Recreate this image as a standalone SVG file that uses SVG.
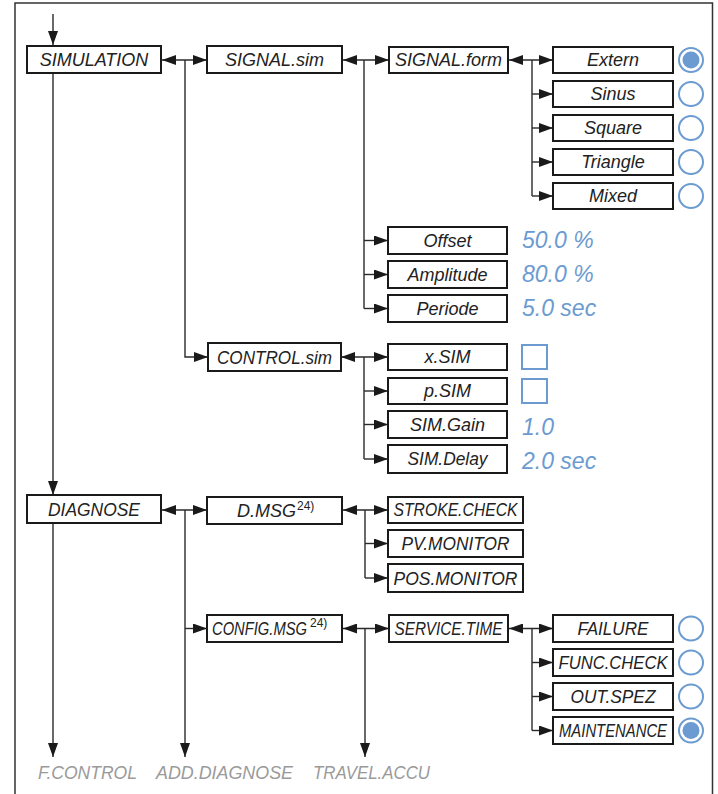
<svg xmlns="http://www.w3.org/2000/svg" width="718" height="794" viewBox="0 0 718 794">
<style>
.b rect{fill:#fff;stroke:#1a1a1a;stroke-width:2}
.b text{font-family:"Liberation Sans",Arial,sans-serif;font-style:italic;font-size:18px;fill:#222;text-anchor:middle}
.b text.s{text-anchor:start}
.b text.sup{text-anchor:start;font-size:12px;font-style:normal}
.c line,.c path{fill:none;stroke:#2a2a2a;stroke-width:1.4}
.ar{marker-end:url(#a)}
.ar2{marker-start:url(#a);marker-end:url(#a)}
.v{font-family:"Liberation Sans",Arial,sans-serif;font-style:italic;font-size:23px;fill:#6b9bd1}
.g{font-family:"Liberation Sans",Arial,sans-serif;font-style:italic;font-size:19px;fill:#9a9a9a}
.r{fill:#fff;stroke:#6b9bd1;stroke-width:2}
.rf{fill:#6b9bd1}
</style>
<defs>
<marker id="a" viewBox="0 0 14 10" refX="14" refY="5" markerWidth="14" markerHeight="10" markerUnits="userSpaceOnUse" orient="auto-start-reverse"><path d="M0,0L14,5L0,10z" fill="#1a1a1a"/></marker>
</defs>
<path d="M15,794V3H712.5V794" fill="none" stroke="#333" stroke-width="1.5"/>
<g class="c" id="connectors">
<line class="ar" x1="53" y1="14" x2="53" y2="45"/>
<line class="ar" x1="53" y1="73" x2="53" y2="495"/>
<line class="ar" x1="53" y1="523" x2="53" y2="757"/>
<line class="ar2" x1="162" y1="60" x2="207" y2="60"/>
<path class="ar" d="M185,60V357H208"/>
<line class="ar2" x1="343" y1="60" x2="389" y2="60"/>
<line x1="364" y1="60" x2="364" y2="308.5"/>
<line class="ar" x1="364" y1="240.5" x2="388" y2="240.5"/>
<line class="ar" x1="364" y1="274.5" x2="388" y2="274.5"/>
<line class="ar" x1="364" y1="308.5" x2="388" y2="308.5"/>
<line class="ar2" x1="509" y1="60" x2="553" y2="60"/>
<line x1="532" y1="60" x2="532" y2="196"/>
<line class="ar" x1="532" y1="94" x2="553" y2="94"/>
<line class="ar" x1="532" y1="128" x2="553" y2="128"/>
<line class="ar" x1="532" y1="162" x2="553" y2="162"/>
<line class="ar" x1="532" y1="196" x2="553" y2="196"/>
<line class="ar2" x1="341" y1="357" x2="388" y2="357"/>
<line x1="364" y1="357" x2="364" y2="459"/>
<line class="ar" x1="364" y1="391" x2="388" y2="391"/>
<line class="ar" x1="364" y1="424.5" x2="388" y2="424.5"/>
<line class="ar" x1="364" y1="459" x2="388" y2="459"/>
<line class="ar2" x1="162" y1="510" x2="207" y2="510"/>
<line class="ar" x1="185" y1="510" x2="185" y2="757"/>
<line class="ar" x1="185" y1="628.5" x2="207" y2="628.5"/>
<line class="ar2" x1="343" y1="510" x2="388" y2="510"/>
<line x1="365" y1="510" x2="365" y2="578"/>
<line class="ar" x1="365" y1="543.5" x2="388" y2="543.5"/>
<line class="ar" x1="365" y1="578" x2="388" y2="578"/>
<line class="ar2" x1="343" y1="628.5" x2="389" y2="628.5"/>
<line class="ar" x1="365" y1="628.5" x2="365" y2="757"/>
<line class="ar2" x1="509" y1="628.5" x2="553" y2="628.5"/>
<line x1="532" y1="628.5" x2="532" y2="730.5"/>
<line class="ar" x1="532" y1="662.5" x2="553" y2="662.5"/>
<line class="ar" x1="532" y1="696.5" x2="553" y2="696.5"/>
<line class="ar" x1="532" y1="730.5" x2="553" y2="730.5"/>
</g>
<g class="b">
<g id="simulation"><rect x="27" y="46" width="134" height="27"/><text x="94" y="66">SIMULATION</text></g>
<g id="signal_sim"><rect x="207" y="46" width="135" height="27"/><text x="274.5" y="66">SIGNAL.sim</text></g>
<g id="signal_form"><rect x="389" y="47" width="119" height="26"/><text x="448.5" y="66">SIGNAL.form</text></g>
<g id="extern"><rect x="553" y="47" width="120" height="26"/><text x="613" y="66">Extern</text></g>
<g id="sinus"><rect x="553" y="81" width="120" height="26"/><text x="613" y="100">Sinus</text></g>
<g id="square"><rect x="553" y="115" width="120" height="26"/><text x="613" y="134">Square</text></g>
<g id="triangle"><rect x="553" y="149" width="120" height="26"/><text x="613" y="168">Triangle</text></g>
<g id="mixed"><rect x="553" y="183" width="120" height="26"/><text x="613" y="202">Mixed</text></g>
<g id="offset"><rect x="388" y="227" width="119" height="27"/><text x="447.5" y="247">Offset</text></g>
<g id="amplitude"><rect x="388" y="261" width="119" height="27"/><text x="447.5" y="281">Amplitude</text></g>
<g id="periode"><rect x="388" y="295" width="119" height="27"/><text x="447.5" y="315">Periode</text></g>
<g id="control_sim"><rect x="208" y="343" width="133" height="28"/><text x="274.5" y="364" textLength="115" lengthAdjust="spacingAndGlyphs">CONTROL.sim</text></g>
<g id="x_sim"><rect x="388" y="344" width="119" height="26"/><text x="447.5" y="363">x.SIM</text></g>
<g id="p_sim"><rect x="388" y="378" width="119" height="26"/><text x="447.5" y="397">p.SIM</text></g>
<g id="sim_gain"><rect x="388" y="411" width="119" height="27"/><text x="447.5" y="431">SIM.Gain</text></g>
<g id="sim_delay"><rect x="388" y="445" width="119" height="28"/><text x="447.5" y="465" textLength="80" lengthAdjust="spacingAndGlyphs">SIM.Delay</text></g>
<g id="diagnose"><rect x="27" y="495" width="134" height="28"/><text x="94" y="516" textLength="92" lengthAdjust="spacingAndGlyphs">DIAGNOSE</text></g>
<g id="d_msg"><rect x="207" y="497" width="135" height="27"/><text class="s" x="237" y="517">D.MSG</text><text class="sup" x="297" y="510">24)</text></g>
<g id="stroke_check"><rect x="388" y="497" width="135" height="26"/><text x="455.5" y="516" textLength="124" lengthAdjust="spacingAndGlyphs">STROKE.CHECK</text></g>
<g id="pv_monitor"><rect x="388" y="530" width="135" height="27"/><text x="455.5" y="550" textLength="108" lengthAdjust="spacingAndGlyphs">PV.MONITOR</text></g>
<g id="pos_monitor"><rect x="388" y="564" width="135" height="28"/><text x="455.5" y="585" textLength="124" lengthAdjust="spacingAndGlyphs">POS.MONITOR</text></g>
<g id="config_msg"><rect x="207" y="615" width="135" height="27"/><text class="s" transform="translate(212,635) scale(0.82,1)" x="0" y="0">CONFIG.MSG</text><text class="sup" x="310" y="627">24)</text></g>
<g id="service_time"><rect x="389" y="615" width="119" height="27"/><text x="448.5" y="635" textLength="108" lengthAdjust="spacingAndGlyphs">SERVICE.TIME</text></g>
<g id="failure"><rect x="553" y="615" width="120" height="27"/><text x="613" y="635" textLength="71" lengthAdjust="spacingAndGlyphs">FAILURE</text></g>
<g id="func_check"><rect x="553" y="649" width="120" height="27"/><text x="613" y="669" textLength="109" lengthAdjust="spacingAndGlyphs">FUNC.CHECK</text></g>
<g id="out_spez"><rect x="553" y="683" width="120" height="27"/><text x="613" y="703" textLength="85" lengthAdjust="spacingAndGlyphs">OUT.SPEZ</text></g>
<g id="maintenance"><rect x="553" y="717" width="120" height="27"/><text x="613" y="737" textLength="108" lengthAdjust="spacingAndGlyphs">MAINTENANCE</text></g>
</g>
<g id="values">
<text class="v" x="522" y="248">50.0 %</text>
<text class="v" x="522" y="282">80.0 %</text>
<text class="v" x="522" y="316">5.0 sec</text>
<text class="v" x="522" y="435">1.0</text>
<text class="v" x="522" y="469">2.0 sec</text>
<rect class="r" x="522" y="345" width="25" height="24"/>
<rect class="r" x="522" y="379" width="25" height="24"/>
<circle class="r" cx="691" cy="60" r="12"/><circle class="rf" cx="691" cy="60" r="8.5"/>
<circle class="r" cx="691" cy="94" r="12"/>
<circle class="r" cx="691" cy="128" r="12"/>
<circle class="r" cx="691" cy="162" r="12"/>
<circle class="r" cx="691" cy="196" r="12"/>
<circle class="r" cx="691" cy="628.5" r="12"/>
<circle class="r" cx="691" cy="662.5" r="12"/>
<circle class="r" cx="691" cy="696.5" r="12"/>
<circle class="r" cx="691" cy="730.5" r="12"/><circle class="rf" cx="691" cy="730.5" r="8.5"/>
</g>
<g id="exits">
<text class="g" x="38" y="779" textLength="99" lengthAdjust="spacingAndGlyphs">F.CONTROL</text>
<text class="g" x="156" y="779" textLength="137" lengthAdjust="spacingAndGlyphs">ADD.DIAGNOSE</text>
<text class="g" x="313" y="779" textLength="117" lengthAdjust="spacingAndGlyphs">TRAVEL.ACCU</text>
</g>
</svg>
